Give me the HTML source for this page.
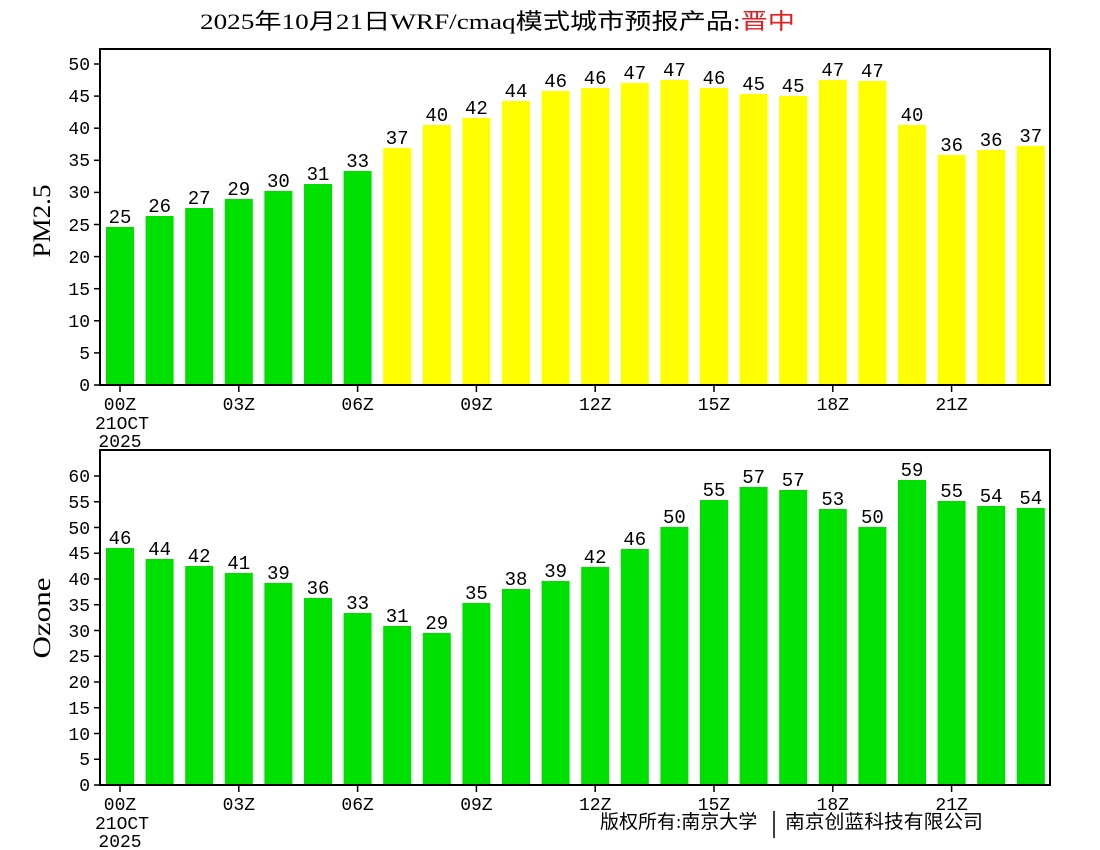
<!DOCTYPE html>
<html><head><meta charset="utf-8"><style>body{margin:0;background:#fff}svg{display:block}</style></head><body>
<svg width="1100" height="850" xmlns="http://www.w3.org/2000/svg" font-family="Liberation Mono, Noto Sans CJK SC, monospace">
<rect width="1100" height="850" fill="#fff"/>
<text x="200" y="29" font-size="22" textLength="595" lengthAdjust="spacingAndGlyphs" font-family="Liberation Serif, Noto Sans CJK SC, serif">2025年10月21日WRF/cmaq模式城市预报产品:<tspan fill="#e02020">晋中</tspan></text>
<g fill="#00e000">
<rect x="106" y="227" width="28" height="158"/><rect x="145.6" y="216" width="28" height="169"/><rect x="185.2" y="208" width="28" height="177"/><rect x="224.8" y="199" width="28" height="186"/><rect x="264.4" y="191" width="28" height="194"/><rect x="304" y="184" width="28" height="201"/><rect x="343.6" y="171" width="28" height="214"/>
</g>
<g fill="#ffff00">
<rect x="383.2" y="148" width="28" height="237"/><rect x="422.8" y="125" width="28" height="260"/><rect x="462.4" y="118" width="28" height="267"/><rect x="502" y="101" width="28" height="284"/><rect x="541.6" y="91" width="28" height="294"/><rect x="581.2" y="88" width="28" height="297"/><rect x="620.8" y="83" width="28" height="302"/><rect x="660.4" y="80" width="28" height="305"/><rect x="700" y="88" width="28" height="297"/><rect x="739.6" y="94" width="28" height="291"/><rect x="779.2" y="96" width="28" height="289"/><rect x="818.8" y="80" width="28" height="305"/><rect x="858.4" y="81" width="28" height="304"/><rect x="898" y="125" width="28" height="260"/><rect x="937.6" y="155" width="28" height="230"/><rect x="977.2" y="150" width="28" height="235"/><rect x="1016.8" y="146" width="28" height="239"/>
</g>
<g font-size="19" text-anchor="middle">
<text x="120" y="223">25</text><text x="159.6" y="212">26</text><text x="199.2" y="204">27</text><text x="238.8" y="195">29</text><text x="278.4" y="187">30</text><text x="318" y="180">31</text><text x="357.6" y="167">33</text><text x="397.2" y="144">37</text><text x="436.8" y="121">40</text><text x="476.4" y="114">42</text><text x="516" y="97">44</text><text x="555.6" y="87">46</text><text x="595.2" y="84">46</text><text x="634.8" y="79">47</text><text x="674.4" y="76">47</text><text x="714" y="84">46</text><text x="753.6" y="90">45</text><text x="793.2" y="92">45</text><text x="832.8" y="76">47</text><text x="872.4" y="77">47</text><text x="912" y="121">40</text><text x="951.6" y="151">36</text><text x="991.2" y="146">36</text><text x="1030.8" y="142">37</text>
</g>
<rect x="100" y="49" width="950" height="336" fill="none" stroke="#000" stroke-width="2"/>
<g stroke="#000" stroke-width="1.5">
<line x1="94" x2="100" y1="385" y2="385"/><line x1="94" x2="100" y1="352.9" y2="352.9"/><line x1="94" x2="100" y1="320.8" y2="320.8"/><line x1="94" x2="100" y1="288.7" y2="288.7"/><line x1="94" x2="100" y1="256.6" y2="256.6"/><line x1="94" x2="100" y1="224.5" y2="224.5"/><line x1="94" x2="100" y1="192.4" y2="192.4"/><line x1="94" x2="100" y1="160.3" y2="160.3"/><line x1="94" x2="100" y1="128.2" y2="128.2"/><line x1="94" x2="100" y1="96.1" y2="96.1"/><line x1="94" x2="100" y1="64" y2="64"/>
<line x1="120" x2="120" y1="385" y2="392"/><line x1="238.8" x2="238.8" y1="385" y2="392"/><line x1="357.6" x2="357.6" y1="385" y2="392"/><line x1="476.4" x2="476.4" y1="385" y2="392"/><line x1="595.2" x2="595.2" y1="385" y2="392"/><line x1="714" x2="714" y1="385" y2="392"/><line x1="832.8" x2="832.8" y1="385" y2="392"/><line x1="951.6" x2="951.6" y1="385" y2="392"/>
</g>
<g font-size="18" text-anchor="end">
<text x="90" y="391">0</text><text x="90" y="359">5</text><text x="90" y="327">10</text><text x="90" y="295">15</text><text x="90" y="263">20</text><text x="90" y="231">25</text><text x="90" y="198">30</text><text x="90" y="166">35</text><text x="90" y="134">40</text><text x="90" y="102">45</text><text x="90" y="70">50</text>
</g>
<g font-size="18" text-anchor="middle">
<text x="120" y="410">00Z</text><text x="238.8" y="410">03Z</text><text x="357.6" y="410">06Z</text><text x="476.4" y="410">09Z</text><text x="595.2" y="410">12Z</text><text x="714" y="410">15Z</text><text x="832.8" y="410">18Z</text><text x="951.6" y="410">21Z</text>
<text x="122" y="429">21OCT</text><text x="120" y="447">2025</text>
</g>
<text transform="translate(50,221) rotate(-90)" font-size="25" text-anchor="middle" textLength="73" lengthAdjust="spacingAndGlyphs" font-family="Liberation Serif, serif">PM2.5</text>
<g fill="#00e000">
<rect x="106" y="548" width="28" height="237"/><rect x="145.6" y="559" width="28" height="226"/><rect x="185.2" y="566" width="28" height="219"/><rect x="224.8" y="573" width="28" height="212"/><rect x="264.4" y="583" width="28" height="202"/><rect x="304" y="598" width="28" height="187"/><rect x="343.6" y="613" width="28" height="172"/><rect x="383.2" y="626" width="28" height="159"/><rect x="422.8" y="633" width="28" height="152"/><rect x="462.4" y="603" width="28" height="182"/><rect x="502" y="589" width="28" height="196"/><rect x="541.6" y="581" width="28" height="204"/><rect x="581.2" y="567" width="28" height="218"/><rect x="620.8" y="549" width="28" height="236"/><rect x="660.4" y="527" width="28" height="258"/><rect x="700" y="500" width="28" height="285"/><rect x="739.6" y="487" width="28" height="298"/><rect x="779.2" y="490" width="28" height="295"/><rect x="818.8" y="509" width="28" height="276"/><rect x="858.4" y="527" width="28" height="258"/><rect x="898" y="480" width="28" height="305"/><rect x="937.6" y="501" width="28" height="284"/><rect x="977.2" y="506" width="28" height="279"/><rect x="1016.8" y="508" width="28" height="277"/>
</g>
<g font-size="19" text-anchor="middle">
<text x="120" y="544">46</text><text x="159.6" y="555">44</text><text x="199.2" y="562">42</text><text x="238.8" y="569">41</text><text x="278.4" y="579">39</text><text x="318" y="594">36</text><text x="357.6" y="609">33</text><text x="397.2" y="622">31</text><text x="436.8" y="629">29</text><text x="476.4" y="599">35</text><text x="516" y="585">38</text><text x="555.6" y="577">39</text><text x="595.2" y="563">42</text><text x="634.8" y="545">46</text><text x="674.4" y="523">50</text><text x="714" y="496">55</text><text x="753.6" y="483">57</text><text x="793.2" y="486">57</text><text x="832.8" y="505">53</text><text x="872.4" y="523">50</text><text x="912" y="476">59</text><text x="951.6" y="497">55</text><text x="991.2" y="502">54</text><text x="1030.8" y="504">54</text>
</g>
<rect x="100" y="450" width="950" height="335" fill="none" stroke="#000" stroke-width="2"/>
<g stroke="#000" stroke-width="1.5">
<line x1="94" x2="100" y1="785" y2="785"/><line x1="94" x2="100" y1="759.25" y2="759.25"/><line x1="94" x2="100" y1="733.5" y2="733.5"/><line x1="94" x2="100" y1="707.75" y2="707.75"/><line x1="94" x2="100" y1="682" y2="682"/><line x1="94" x2="100" y1="656.25" y2="656.25"/><line x1="94" x2="100" y1="630.5" y2="630.5"/><line x1="94" x2="100" y1="604.75" y2="604.75"/><line x1="94" x2="100" y1="579" y2="579"/><line x1="94" x2="100" y1="553.25" y2="553.25"/><line x1="94" x2="100" y1="527.5" y2="527.5"/><line x1="94" x2="100" y1="501.75" y2="501.75"/><line x1="94" x2="100" y1="476" y2="476"/>
<line x1="120" x2="120" y1="785" y2="792"/><line x1="238.8" x2="238.8" y1="785" y2="792"/><line x1="357.6" x2="357.6" y1="785" y2="792"/><line x1="476.4" x2="476.4" y1="785" y2="792"/><line x1="595.2" x2="595.2" y1="785" y2="792"/><line x1="714" x2="714" y1="785" y2="792"/><line x1="832.8" x2="832.8" y1="785" y2="792"/><line x1="951.6" x2="951.6" y1="785" y2="792"/>
</g>
<g font-size="18" text-anchor="end">
<text x="90" y="791">0</text><text x="90" y="765">5</text><text x="90" y="740">10</text><text x="90" y="714">15</text><text x="90" y="688">20</text><text x="90" y="662">25</text><text x="90" y="637">30</text><text x="90" y="611">35</text><text x="90" y="585">40</text><text x="90" y="559">45</text><text x="90" y="534">50</text><text x="90" y="508">55</text><text x="90" y="482">60</text>
</g>
<g font-size="18" text-anchor="middle">
<text x="120" y="810">00Z</text><text x="238.8" y="810">03Z</text><text x="357.6" y="810">06Z</text><text x="476.4" y="810">09Z</text><text x="595.2" y="810">12Z</text><text x="714" y="810">15Z</text><text x="832.8" y="810">18Z</text><text x="951.6" y="810">21Z</text>
<text x="122" y="829">21OCT</text><text x="120" y="847">2025</text>
</g>
<text transform="translate(50,618) rotate(-90)" font-size="25" text-anchor="middle" textLength="81" lengthAdjust="spacingAndGlyphs" font-family="Liberation Serif, serif">Ozone</text>
<text x="600" y="828" font-size="19" font-family="Liberation Serif, Noto Sans CJK SC, serif">版权所有:南京大学</text>
<line x1="774" y1="811" x2="774" y2="838" stroke="#000" stroke-width="1.5"/>
<text x="785" y="828" font-size="19" textLength="198" lengthAdjust="spacingAndGlyphs" font-family="Liberation Serif, Noto Sans CJK SC, serif">南京创蓝科技有限公司</text>
</svg>
</body></html>
